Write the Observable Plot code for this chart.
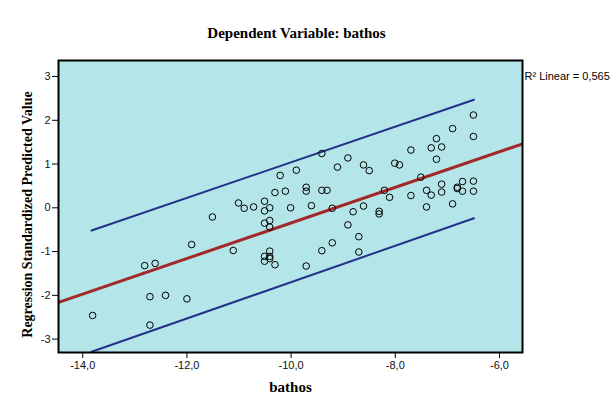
<!DOCTYPE html>
<html><head><meta charset="utf-8">
<script src="https://cdn.jsdelivr.net/npm/d3@7"></script>
<script src="https://cdn.jsdelivr.net/npm/@observablehq/plot@0.6"></script>
<style>html,body{margin:0;padding:0;background:#fff}</style>
</head><body><div id="chart"></div>
<script>
// observed values: bathos (x) and regression standardized predicted value (y)
const bathos = [
  -11.51,-11.11,-11.01,-10.90,-10.72,-10.51,-10.51,-10.41,-10.51,-10.41,
  -10.41,-10.21,-10.31,-10.11,-9.90,-10.01,-9.71,-9.71,-9.61,-9.41,
  -9.31,-9.41,-9.21,-9.11,-8.91,-8.61,-8.50,-8.01,-7.92,-8.81,
  -8.61,-8.31,-8.31,-8.21,-8.11,-8.91,-8.70,-8.70,-9.21,-9.41,
  -9.71,-10.31,-10.51,-10.51,-10.41,-10.41,-10.41,-11.91,-12.81,-12.61,
  -12.71,-12.41,-12.00,-13.81,-12.71,-6.50,-6.50,-6.90,-7.21,-7.31,
  -7.11,-7.21,-7.70,-7.51,-7.70,-7.40,-7.31,-7.11,-7.11,-6.81,
  -6.81,-6.71,-6.71,-6.50,-6.50,-7.40,-6.90
];
const predicted = [
  -0.21,-0.975,0.11,-0.01,0.02,0.15,-0.07,0.00,-0.35,-0.29,
  -0.44,0.74,0.35,0.38,0.86,0.00,0.47,0.38,0.05,0.40,
  0.40,1.24,-0.01,0.93,1.14,0.98,0.85,1.02,0.98,-0.09,
  0.04,-0.08,-0.14,0.40,0.24,-0.39,-0.66,-1.01,-0.80,-0.98,
  -1.33,-1.30,-1.11,-1.22,-0.99,-1.11,-1.16,-0.84,-1.32,-1.27,
  -2.03,-2.00,-2.08,-2.46,-2.68,2.12,1.63,1.81,1.58,1.37,
  1.39,1.11,1.32,0.70,0.28,0.40,0.29,0.54,0.36,0.47,
  0.44,0.60,0.38,0.61,0.38,0.02,0.09
];
// fit line and interval lines
const fitX = [-14.465, -5.558];
const fitY = [-2.16, 1.46];
const bandX = [-13.83, -6.49];
const upperY = [-0.52, 2.47];
const lowerY = [-3.29, -0.24];
const xTicks = [-14, -12, -10, -8, -6];
const yTicks = [-3, -2, -1, 0, 1, 2, 3];
const xDomain = [-14.465, -5.558];
const yDomain = [-3.306, 3.366];
const titleText = "Dependent Variable: bathos";
const xLabel = "bathos";
const yLabel = "Regression Standardized Predicted Value";
const r2Label = "R² Linear = 0,565";

const points = bathos.map((x, i) => ({x, y: predicted[i]}));
const fit = fitX.map((x, i) => ({x, y: fitY[i]}));
const upper = bandX.map((x, i) => ({x, y: upperY[i]}));
const lower = bandX.map((x, i) => ({x, y: lowerY[i]}));
const fmtX = d => (d < 0 ? "-" : "") + Math.abs(d).toFixed(1).replace(".", ",");
const fmtY = d => (d < 0 ? "-" : "") + Math.abs(d);
const serif = "'Liberation Serif', 'Times New Roman', serif";

const chart = Plot.plot({
  width: 616, height: 413,
  marginLeft: 58, marginRight: 94, marginTop: 60, marginBottom: 61,
  style: {fontFamily: "'Liberation Sans', Arial, sans-serif", fontSize: "11px", background: "#fff", color: "#111", overflow: "visible"},
  x: {domain: xDomain},
  y: {domain: yDomain},
  marks: [
    Plot.frame({fill: "#b4e5e8", stroke: "none"}),
    Plot.axisX({ticks: xTicks, tickFormat: fmtX, tickSize: 6, tickPadding: 3, label: null, stroke: "#000", strokeWidth: 1}),
    Plot.axisY({ticks: yTicks, tickFormat: fmtY, tickSize: 6, tickPadding: 2, label: null, stroke: "#000", strokeWidth: 1}),
    Plot.line(upper, {x: "x", y: "y", stroke: "#24318a", strokeWidth: 2}),
    Plot.line(lower, {x: "x", y: "y", stroke: "#24318a", strokeWidth: 2, clip: true}),
    Plot.line(fit, {x: "x", y: "y", stroke: "#a3282a", strokeWidth: 3, clip: true}),
    Plot.dot(points, {x: "x", y: "y", r: 3.3, stroke: "#000", strokeWidth: 1, fill: "none"}),
    Plot.frame({stroke: "#000", strokeWidth: 2}),
    Plot.text([titleText], {frameAnchor: "top", textAnchor: "middle", dx: 6, dy: -33, fontFamily: serif, fontWeight: "bold", fontSize: 15, fill: "#000"}),
    Plot.text([xLabel], {frameAnchor: "bottom", textAnchor: "middle", dy: 39, fontFamily: serif, fontWeight: "bold", fontSize: 15, fill: "#000"}),
    Plot.text([yLabel], {frameAnchor: "left", textAnchor: "middle", dx: -31, dy: 8, rotate: -90, fontFamily: serif, fontWeight: "bold", fontSize: 14, fill: "#000"}),
    Plot.text([r2Label], {frameAnchor: "top-right", textAnchor: "start", dx: 2, dy: 12, fontSize: 11, fill: "#000"})
  ]
});
document.getElementById("chart").appendChild(chart);
</script>
</body></html>
